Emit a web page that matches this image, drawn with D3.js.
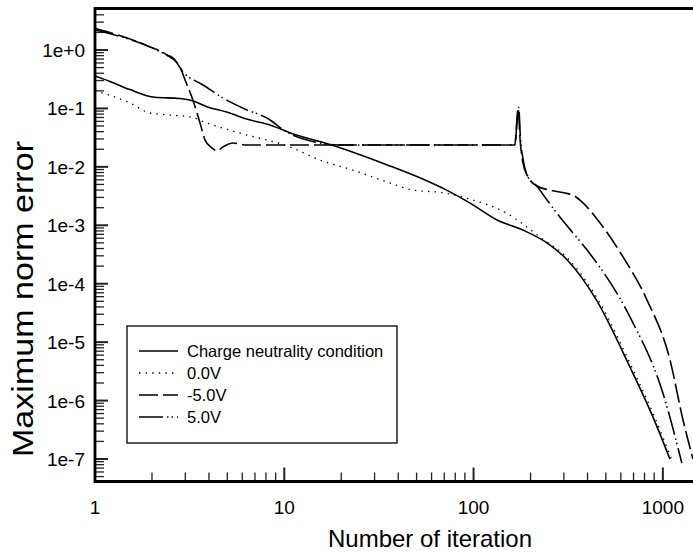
<!DOCTYPE html>
<html>
<head>
<meta charset="utf-8">
<script src="https://cdn.jsdelivr.net/npm/d3@7"></script>
<style>
  body { margin: 0; background: #fff; }
  text { font-family: "Liberation Sans", Arial, sans-serif; fill: #000; }
</style>
</head>
<body>
<div id="chart"></div>
<script>
// [iteration, max norm error]
var chargeNeutrality = [
  [1, 0.36], [1.2, 0.29], [1.53, 0.21], [2.07, 0.155], [2.8, 0.148], [3.2, 0.138],
  [3.9, 0.107], [5, 0.086], [6.4, 0.065], [8.4, 0.052], [10.7, 0.0385], [19, 0.0221],
  [35, 0.0108], [52, 0.0065], [72, 0.004], [96, 0.0024], [133, 0.00123], [182, 0.00083],
  [244, 0.0005], [311, 0.00026], [450, 5e-5], [670, 3.75e-6], [887, 5.2e-7], [1090, 1e-7]
];
var zeroV = [
  [1, 0.2], [1.53, 0.124], [1.95, 0.0835], [2.5, 0.077], [3.2, 0.0713], [3.9, 0.0563],
  [5.8, 0.038], [10.7, 0.0219], [15.4, 0.0131], [23, 0.0088], [35, 0.0055], [48, 0.004],
  [69, 0.0036], [92, 0.0029], [150, 0.0016], [224, 0.00063], [315, 0.00027], [460, 5e-5],
  [685, 3.75e-6], [905, 5.2e-7], [1110, 1e-7]
];
var minus5V = [
  [1, 2.35], [1.95, 1.13], [2.4, 0.82], [2.81, 0.51], [3.0, 0.3], [3.29, 0.139],
  [3.59, 0.056], [3.81, 0.029], [4.15, 0.021], [4.41, 0.0187], [4.74, 0.0219], [5.35, 0.0256],
  [6.35, 0.0236], [165, 0.0236], [172, 0.1], [176, 0.03], [182, 0.012], [194, 0.0067],
  [216, 0.0047], [253, 0.004], [300, 0.0036], [340, 0.0032], [370, 0.0026], [465, 0.0011],
  [615, 0.00029], [824, 5.3e-5], [1090, 5e-6], [1277, 4.7e-7], [1443, 1e-7]
];
var plus5V = [
  [1, 2.2], [1.95, 1.13], [2.4, 0.82], [2.58, 0.73], [2.92, 0.42], [3.72, 0.252],
  [4.74, 0.151], [6.35, 0.094], [8.1, 0.0686], [10.3, 0.0395], [15.4, 0.0256], [19, 0.0236],
  [165, 0.0236], [173, 0.105], [177, 0.03], [183, 0.013], [194, 0.0067], [216, 0.0047],
  [224, 0.004], [276, 0.0016], [335, 0.00074], [397, 0.00038], [670, 2.7e-5],
  [1000, 1.35e-6], [1260, 8.5e-8]
];

var seriesNames = ["Charge neutrality condition", "0.0V", "-5.0V", "5.0V"];
var xTicks = [1, 10, 100, 1000];
var xTickLabels = ["1", "10", "100", "1000"];
var yTicks = [1, 1e-1, 1e-2, 1e-3, 1e-4, 1e-5, 1e-6, 1e-7];
var yTickLabels = ["1e+0", "1e-1", "1e-2", "1e-3", "1e-4", "1e-5", "1e-6", "1e-7"];

var width = 693, height = 553;
var plotLeft = 95, plotRight = 693, plotTop = 8.5, plotBottom = 481.5;

var series = [chargeNeutrality, zeroV, minus5V, plus5V];
var dashes = [null, "1.4,5.2", "19,5", "24,4,1.5,3,1.5,4"];
var widths = [1.6, 1.3, 1.6, 1.6];

var x = d3.scaleLog().domain([1, 1443]).range([plotLeft, plotRight]);
var y = d3.scaleLog().domain([4.12e-8, 5.13]).range([plotBottom, plotTop]);

var svg = d3.select("#chart").append("svg")
  .attr("width", width)
  .attr("height", height);

/* minor + major ticks, drawn inward */
var xMinor = [], yMinor = [];
for (var e = 0; e <= 3; e++) {
  for (var m = 2; m <= 9; m++) {
    var v = m * Math.pow(10, e);
    if (v <= 1443) xMinor.push(v);
  }
}
for (var e2 = -8; e2 <= 0; e2++) {
  for (var m2 = 2; m2 <= 9; m2++) {
    var v2 = m2 * Math.pow(10, e2);
    if (v2 >= 4.12e-8 && v2 <= 5.13) yMinor.push(v2);
  }
}

var ticks = svg.append("g").attr("stroke", "#222").attr("stroke-width", 1.3);
ticks.selectAll(".xminor").data(xMinor).enter().append("line")
  .attr("x1", d => x(d)).attr("x2", d => x(d))
  .attr("y1", plotBottom).attr("y2", plotBottom - 9);
ticks.selectAll(".xmajor").data(xTicks).enter().append("line")
  .attr("x1", d => x(d)).attr("x2", d => x(d))
  .attr("y1", plotBottom).attr("y2", plotBottom - 14)
  .attr("stroke-width", 2);
ticks.selectAll(".yminor").data(yMinor).enter().append("line")
  .attr("y1", d => y(d)).attr("y2", d => y(d))
  .attr("x1", plotLeft).attr("x2", plotLeft + 9);
ticks.selectAll(".ymajor").data(yTicks).enter().append("line")
  .attr("y1", d => y(d)).attr("y2", d => y(d))
  .attr("x1", plotLeft).attr("x2", plotLeft + 13)
  .attr("stroke-width", 2);

/* frame */
svg.append("path")
  .attr("d", `M${plotRight + 2},${plotTop} H${plotLeft} V${plotBottom} H${plotRight + 2}`)
  .attr("fill", "none")
  .attr("stroke", "#000")
  .attr("stroke-width", 2.8);

/* tick labels */
svg.selectAll(".xlab").data(xTicks).enter().append("text")
  .attr("x", d => x(d)).attr("y", 514)
  .attr("text-anchor", "middle")
  .style("font-size", "19px")
  .text((d, i) => xTickLabels[i]);
svg.selectAll(".ylab").data(yTicks).enter().append("text")
  .attr("x", 85).attr("y", d => y(d) + 7)
  .attr("text-anchor", "end")
  .style("font-size", "19px")
  .text((d, i) => yTickLabels[i]);

/* axis titles */
svg.append("text")
  .attr("x", 430).attr("y", 547)
  .attr("text-anchor", "middle")
  .style("font-size", "24px")
  .text("Number of iteration");
svg.append("text")
  .attr("transform", "translate(33,299) rotate(-90)")
  .attr("text-anchor", "middle")
  .attr("textLength", 316)
  .attr("lengthAdjust", "spacingAndGlyphs")
  .style("font-size", "30px")
  .text("Maximum norm error");

/* curves */
var line = d3.line()
  .x(d => x(d[0]))
  .y(d => y(d[1]))
  .curve(d3.curveMonotoneX);

svg.append("defs").append("clipPath").attr("id", "plot")
  .append("rect").attr("x", plotLeft).attr("y", plotTop)
  .attr("width", plotRight - plotLeft).attr("height", plotBottom - plotTop);

svg.append("g").attr("clip-path", "url(#plot)")
  .selectAll("path").data(series).enter().append("path")
  .attr("d", d => line(d))
  .attr("fill", "none")
  .attr("stroke", "#000")
  .attr("stroke-width", (d, i) => widths[i])
  .attr("stroke-dasharray", (d, i) => dashes[i]);

/* legend */
var legend = svg.append("g");
legend.append("rect")
  .attr("x", 127).attr("y", 326).attr("width", 270).attr("height", 117)
  .attr("fill", "#fff").attr("stroke", "#000").attr("stroke-width", 1.3);
var rows = legend.selectAll(".row").data(seriesNames).enter().append("g")
  .attr("transform", (d, i) => `translate(0, ${351 + i * 22})`);
rows.append("line")
  .attr("x1", 139).attr("x2", 178)
  .attr("stroke", "#000")
  .attr("stroke-width", (d, i) => widths[i])
  .attr("stroke-dasharray", (d, i) => dashes[i]);
rows.append("text")
  .attr("x", 187).attr("y", 6)
  .style("font-size", "16.5px")
  .text(d => d);
</script>
</body>
</html>
